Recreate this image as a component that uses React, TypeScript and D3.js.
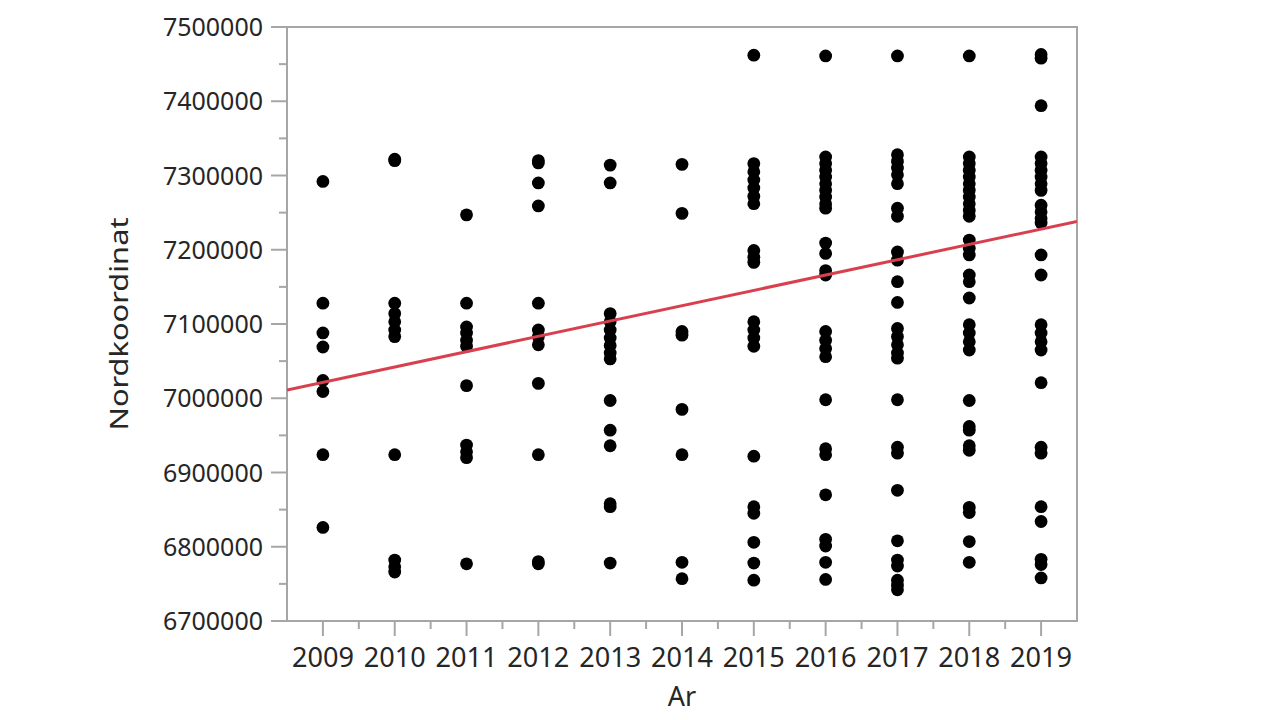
import React from "react";
import * as d3 from "d3";

const years = [2009, 2010, 2011, 2012, 2013, 2014, 2015, 2016, 2017, 2018, 2019];

const y2009 = [7292000, 7128000, 7088000, 7069000, 7024000, 7009000, 6924000, 6826000];
const y2010 = [7322000, 7320000, 7128000, 7114000, 7103000, 7092000, 7083000, 6924000, 6782000, 6773000, 6766000];
const y2011 = [7247000, 7128000, 7096000, 7088000, 7078000, 7070000, 7017000, 6937000, 6928000, 6920000, 6777000];
const y2012 = [7320000, 7317000, 7290000, 7259000, 7128000, 7092000, 7083000, 7072000, 7020000, 6924000, 6780000, 6777000];
const y2013 = [7314000, 7290000, 7114000, 7103000, 7092000, 7081000, 7071000, 7061000, 7053000, 6997000, 6957000, 6936000, 6858000, 6854000, 6778000];
const y2014 = [7315000, 7249000, 7090000, 7085000, 6985000, 6924000, 6779000, 6757000];
const y2015 = [7462000, 7316000, 7305000, 7294000, 7283000, 7272000, 7262000, 7199000, 7190000, 7183000, 7103000, 7092000, 7081000, 7070000, 6922000, 6854000, 6845000, 6806000, 6778000, 6755000];
const y2016 = [7461000, 7325000, 7316000, 7307000, 7298000, 7289000, 7280000, 7271000, 7262000, 7256000, 7209000, 7195000, 7172000, 7166000, 7090000, 7078000, 7067000, 7056000, 6998000, 6932000, 6924000, 6870000, 6810000, 6801000, 6779000, 6756000];
const y2017 = [7461000, 7328000, 7319000, 7310000, 7301000, 7289000, 7256000, 7245000, 7197000, 7186000, 7157000, 7129000, 7094000, 7083000, 7072000, 7061000, 7054000, 6998000, 6934000, 6926000, 6876000, 6808000, 6782000, 6774000, 6755000, 6748000, 6742000];
const y2018 = [7461000, 7325000, 7316000, 7307000, 7298000, 7289000, 7280000, 7271000, 7262000, 7253000, 7245000, 7213000, 7202000, 7193000, 7166000, 7157000, 7135000, 7099000, 7088000, 7076000, 7065000, 6997000, 6962000, 6957000, 6936000, 6930000, 6853000, 6846000, 6807000, 6779000];
const y2019 = [7463000, 7458000, 7394000, 7325000, 7316000, 7307000, 7298000, 7289000, 7280000, 7260000, 7251000, 7242000, 7236000, 7193000, 7166000, 7099000, 7088000, 7076000, 7065000, 7021000, 6934000, 6926000, 6854000, 6834000, 6783000, 6776000, 6758000];

const valuesByYear = [y2009, y2010, y2011, y2012, y2013, y2014, y2015, y2016, y2017, y2018, y2019];

const yTicks = [6700000, 6800000, 6900000, 7000000, 7100000, 7200000, 7300000, 7400000, 7500000];

// fitted line: value at 2009 and slope per year
const fitAt2009 = 7021500;
const fitSlope = 20630;

const xTitle = "Ar";
const yTitle = "Nordkoordinat";

export default function App() {
  const left = 287, right = 1077, top = 27, bottom = 621;
  const x = d3.scaleLinear().domain([2008.5, 2019.5]).range([left, right]);
  const y = d3.scaleLinear().domain([6700000, 7500000]).range([bottom, top]);

  const points = years.flatMap((yr, i) => valuesByYear[i].map((v) => ({ yr, v })));
  const minorY = d3.range(6750000, 7500000, 100000);
  const minorX = d3.range(2009.5, 2019, 1);

  const fit = (yr: number) => fitAt2009 + fitSlope * (yr - 2009);
  const line = d3.line<number>().x((d) => x(d)).y((d) => y(fit(d)));

  const axisColor = "#a6a6a6";
  const textColor = "#262626";
  const font = "'Noto Sans', 'Open Sans', sans-serif";

  return (
    <svg width={1280} height={720} style={{ position: "absolute", left: 0, top: 0, background: "#fff" }}>
      <defs>
        <clipPath id="plot">
          <rect x={left} y={top} width={right - left} height={bottom - top} />
        </clipPath>
      </defs>
      <rect x={left} y={top} width={right - left} height={bottom - top} fill="none" stroke={axisColor} strokeWidth={2} />
      {yTicks.map((t) => (
        <g key={"yt" + t}>
          <line x1={left - 16} x2={left} y1={y(t)} y2={y(t)} stroke={axisColor} strokeWidth={2} />
          <text x={left - 24} y={y(t)} dy="0.36em" textAnchor="end" fontSize={25} fontFamily={font} fill={textColor}>
            {t}
          </text>
        </g>
      ))}
      {minorY.map((t) => (
        <line key={"ym" + t} x1={left - 8} x2={left} y1={y(t)} y2={y(t)} stroke={axisColor} strokeWidth={2} />
      ))}
      {years.map((t) => (
        <g key={"xt" + t}>
          <line x1={x(t)} x2={x(t)} y1={bottom} y2={bottom + 15} stroke={axisColor} strokeWidth={2} />
          <text
            x={x(t)}
            y={bottom + 46}
            textAnchor="middle"
            fontSize={28}
            fontFamily={font}
            fill={textColor}
            textLength={62}
            lengthAdjust="spacingAndGlyphs"
          >
            {t}
          </text>
        </g>
      ))}
      {minorX.map((t) => (
        <line key={"xm" + t} x1={x(t)} x2={x(t)} y1={bottom} y2={bottom + 8} stroke={axisColor} strokeWidth={2} />
      ))}
      <g clipPath="url(#plot)">
        {points.map((p, i) => (
          <circle key={i} cx={x(p.yr)} cy={y(p.v)} r={6.4} fill="#000" />
        ))}
        <path d={line([2008.5, 2019.5]) || ""} stroke="#d9404f" strokeWidth={3} fill="none" />
      </g>
      <text x={(left + right) / 2} y={706} textAnchor="middle" fontSize={27} fontFamily={font} fill={textColor}>
        {xTitle}
      </text>
      <text
        transform={`translate(128, ${(top + bottom) / 2}) rotate(-90)`}
        textAnchor="middle"
        fontSize={25}
        fontFamily={font}
        fill={textColor}
        textLength={213}
        lengthAdjust="spacingAndGlyphs"
      >
        {yTitle}
      </text>
    </svg>
  );
}
